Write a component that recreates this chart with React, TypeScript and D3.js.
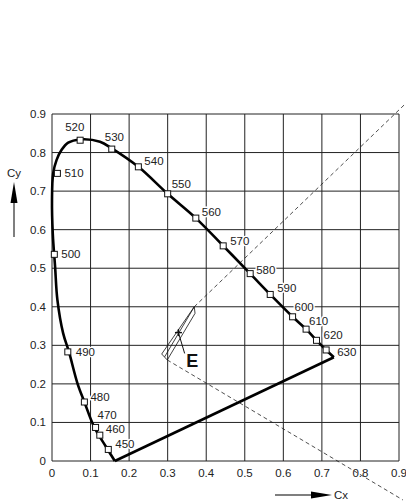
import React from 'react';
import * as d3 from 'd3';

// wavelength markers (nm) and their chromaticity coords
const wavelengths = [450, 460, 470, 480, 490, 500, 510, 520, 530, 540, 550, 560, 570, 580, 590, 600, 610, 620, 630];
const markerX = [0.146, 0.124, 0.113, 0.084, 0.041, 0.006, 0.014, 0.073, 0.155, 0.224, 0.300, 0.373, 0.444, 0.514, 0.566, 0.624, 0.659, 0.686, 0.711];
const markerY = [0.030, 0.067, 0.087, 0.153, 0.283, 0.536, 0.746, 0.832, 0.809, 0.763, 0.693, 0.630, 0.558, 0.486, 0.432, 0.374, 0.342, 0.313, 0.288];

// spectral locus outline
const locusX = [0.163, 0.140, 0.109, 0.084, 0.066, 0.044, 0.029, 0.014, 0.008, 0.002, 0.0, 0.003, 0.012, 0.025, 0.042, 0.073, 0.1245, 0.155, 0.224, 0.300, 0.373, 0.444, 0.514, 0.566, 0.624, 0.659, 0.686, 0.711, 0.731];
const locusY = [0.0, 0.037, 0.089, 0.153, 0.2015, 0.283, 0.331, 0.418, 0.504, 0.590, 0.677, 0.746, 0.781, 0.807, 0.8255, 0.834, 0.828, 0.811, 0.763, 0.693, 0.630, 0.558, 0.486, 0.432, 0.374, 0.342, 0.313, 0.288, 0.269];

// region E and its guide lines
const regionX = [0.2845, 0.299, 0.371, 0.369];
const regionY = [0.2775, 0.262, 0.383, 0.400];
const regionInnerX = [0.292, 0.369];
const regionInnerY = [0.270, 0.400];
const starPoint = [0.328, 0.333];
const upperDashX = [0.369, 0.915];
const upperDashY = [0.400, 0.925];
const lowerDashX = [0.299, 0.700, 0.91];
const lowerDashY = [0.262, 0.024, -0.101];

const ticks = [0, 0.1, 0.2, 0.3, 0.4, 0.5, 0.6, 0.7, 0.8, 0.9];

// label offsets in px relative to marker (x start, y center)
const labelDx = [7, 6, 2, 6, 8, 7, 7, -15, -7, 6, 4, 6, 7, 6, 7, 2, 3, 7, 11];
const labelDy = [-5, -6, -12, -5, 0, 0, 0, -13, -12, -6, -10, -6, -5, -4, -6, -10, -8, -5, 2];

const W = 406;
const H = 504;
const margin = { left: 52, right: 7, top: 114, bottom: 43 };
const font = '"Liberation Sans", Arial, sans-serif';

export default function App() {
  const x = d3.scaleLinear().domain([0, 0.9]).range([margin.left, W - margin.right]);
  const y = d3.scaleLinear().domain([0, 0.9]).range([H - margin.bottom, margin.top]);

  const locus = d3.line<number>()
    .x(i => x(locusX[i]))
    .y(i => y(locusY[i]))
    .curve(d3.curveCatmullRom.alpha(0.5))(locusX.map((_, i) => i));

  const straight = d3.line<[number, number]>().x(d => x(d[0])).y(d => y(d[1]));
  const last = locusX.length - 1;
  const purple = straight([[locusX[last], locusY[last]], [locusX[0], locusY[0]]]);

  const region = straight(regionX.map((v, i) => [v, regionY[i]] as [number, number])) + 'Z';
  const inner = straight(regionInnerX.map((v, i) => [v, regionInnerY[i]] as [number, number]));
  const upper = straight(upperDashX.map((v, i) => [v, upperDashY[i]] as [number, number]));
  const lower = straight(lowerDashX.map((v, i) => [v, lowerDashY[i]] as [number, number]));

  const sx = x(starPoint[0]);
  const sy = y(starPoint[1]);
  const fmt = (v: number) => (v === 0 ? '0' : v.toFixed(1));

  return (
    <svg width={W} height={H} style={{ position: 'absolute', left: 0, top: 0, background: '#fff' }}
      fontFamily={font}>
      {/* grid */}
      <g stroke="#222" strokeWidth={1}>
        {ticks.map(t => (
          <line key={'v' + t} x1={x(t)} x2={x(t)} y1={y(0)} y2={y(0.9)} />
        ))}
        {ticks.map(t => (
          <line key={'h' + t} x1={x(0)} x2={x(0.9)} y1={y(t)} y2={y(t)} />
        ))}
      </g>

      {/* tick labels */}
      <g fontSize={11.5} fill="#222">
        {ticks.map(t => (
          <text key={'yl' + t} x={margin.left - 6} y={y(t)} dy="0.35em" textAnchor="end">{fmt(t)}</text>
        ))}
        {ticks.map(t => (
          <text key={'xl' + t} x={x(t)} y={y(0) + 12} dy="0.35em" textAnchor="middle">{fmt(t)}</text>
        ))}
      </g>

      {/* dashed guides */}
      <g fill="none" stroke="#222" strokeWidth={0.8} strokeDasharray="4,3">
        <path d={upper || ''} />
        <path d={lower || ''} />
      </g>

      {/* region E */}
      <g fill="none" stroke="#111" strokeWidth={0.8}>
        <path d={region} />
        <path d={inner || ''} />
        <line x1={sx - 3.5} x2={sx + 3.5} y1={sy} y2={sy} strokeWidth={1.4} />
        <line x1={sx} x2={sx} y1={sy - 3.5} y2={sy + 3.5} strokeWidth={1.4} />
        <line x1={sx} y1={sy} x2={x(0.344)} y2={y(0.279)} strokeWidth={1} />
      </g>
      <text x={x(0.348)} y={y(0.245)} fontSize={18} fontWeight="bold" fill="#111">E</text>

      {/* spectral locus and purple line */}
      <g fill="none" stroke="#000" strokeWidth={2.6} strokeLinejoin="miter">
        <path d={locus || ''} />
        <path d={purple || ''} />
      </g>

      {/* markers */}
      <g fill="#fff" stroke="#111" strokeWidth={1}>
        {wavelengths.map((w, i) => (
          <rect key={'m' + w} x={x(markerX[i]) - 3} y={y(markerY[i]) - 3} width={6} height={6} />
        ))}
      </g>
      <g fontSize={11.5} fill="#222" stroke="#fff" strokeWidth={3} paintOrder="stroke" strokeLinejoin="round">
        {wavelengths.map((w, i) => (
          <text key={'l' + w} x={x(markerX[i]) + labelDx[i]} y={y(markerY[i]) + labelDy[i]} dy="0.35em">{w}</text>
        ))}
      </g>

      {/* axis names with arrows */}
      <text x={14} y={173} dy="0.35em" textAnchor="middle" fontSize={11.5} fill="#222">Cy</text>
      <line x1={14} x2={14} y1={237} y2={200} stroke="#555" strokeWidth={1.5} />
      <path d="M14,182 L10.5,203 L17.5,203 Z" fill="#000" />
      <line x1={275} x2={315} y1={495} y2={495} stroke="#555" strokeWidth={1.5} />
      <path d="M332,495 L311,491.5 L311,498.5 Z" fill="#000" />
      <text x={334} y={495} dy="0.35em" fontSize={11.5} fill="#222">Cx</text>
    </svg>
  );
}
